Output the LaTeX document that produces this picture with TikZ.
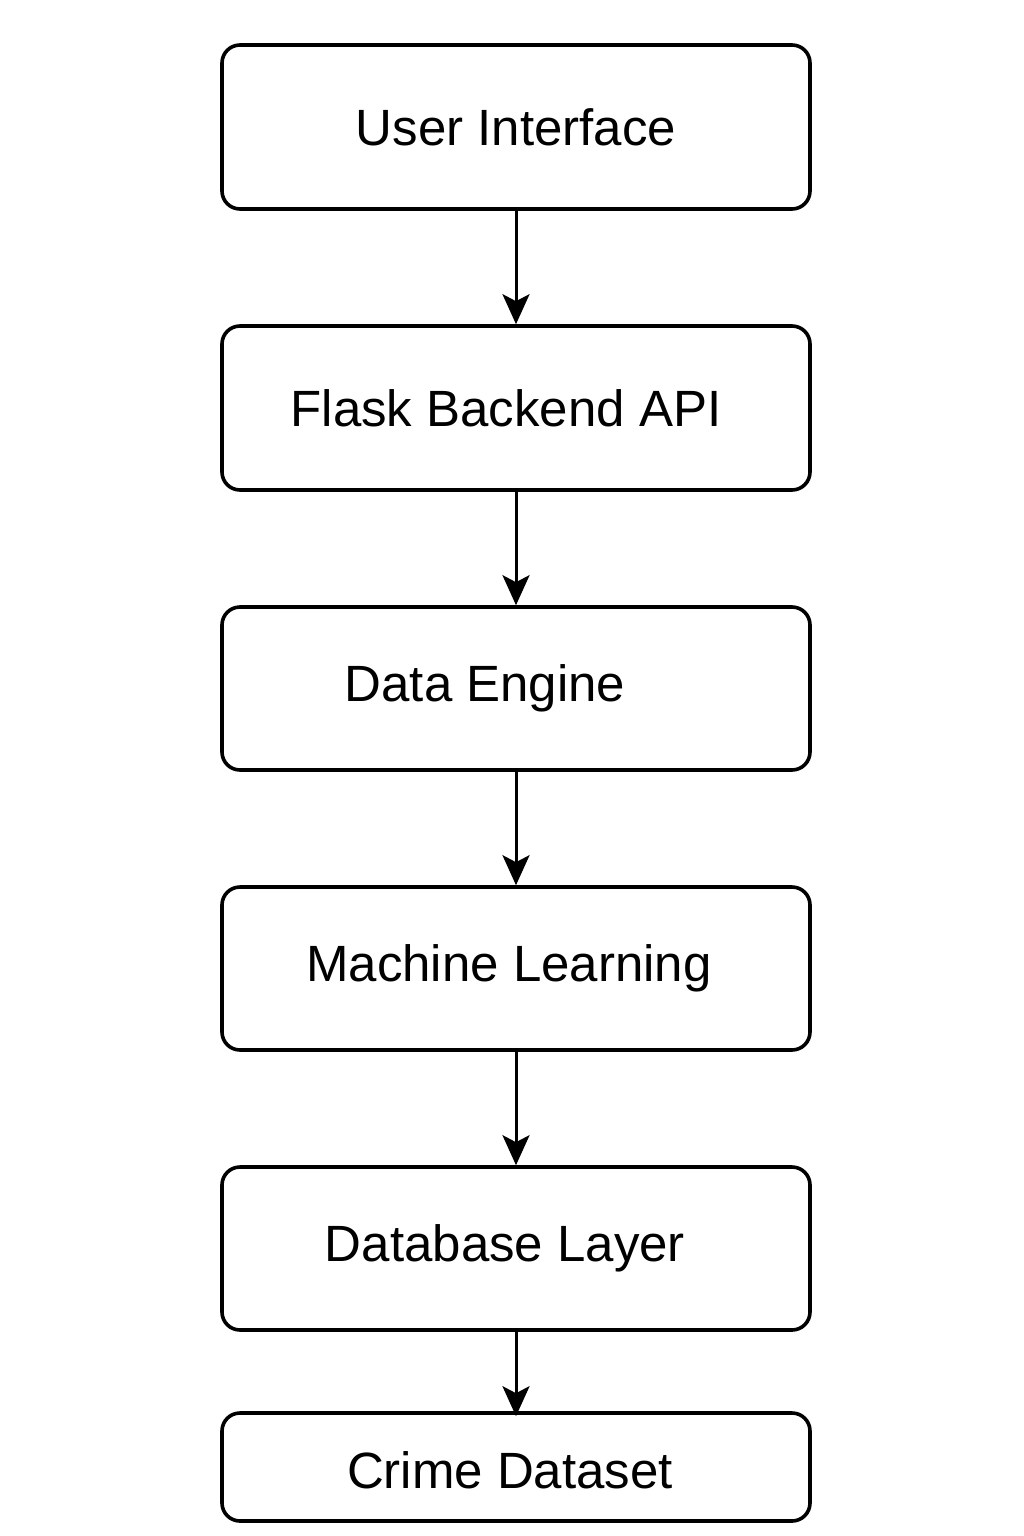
\documentclass[tikz,border=0pt]{standalone}
\usepackage{fontspec}
\setmainfont{Liberation Sans}
\usetikzlibrary{arrows.meta}
\begin{document}
\begin{tikzpicture}[x=1pt,y=-1pt,
  box/.style={draw=black,line width=3.6pt,rounded corners=18pt,minimum width=588pt,inner sep=0pt},
  lbl/.style={font=\fontsize{51}{60}\selectfont,inner sep=0pt,anchor=center},
  conn/.style={line width=3pt,-{Stealth[length=30pt,width=27pt,inset=7pt]}}]
\useasboundingbox[fill=white] (0,0) rectangle (1024,1536);
\node[box,minimum height=164pt] (b1) at (516,127) {};
\node[box,minimum height=164pt] (b2) at (516,408) {};
\node[box,minimum height=163pt] (b3) at (516,688.5) {};
\node[box,minimum height=163pt] (b4) at (516,968.5) {};
\node[box,minimum height=163pt] (b5) at (516,1248.5) {};
\node[box,minimum height=108pt] (b6) at (516,1467) {};
\node[lbl] (t1) at (516,127) {User Interface};
\node[lbl] (t2) at (506,408) {Flask Backend API};
\node[lbl] (t3) at (485,688) {Data Engine};
\node[lbl] (t4) at (509,968) {Machine Learning};
\node[lbl] (t5) at (505,1248) {Database Layer};
\node[lbl] (t6) at (510,1470) {Crime Dataset};
\draw[conn] (b1.south) -- (b2.north);
\draw[conn] (b2.south) -- (b3.north);
\draw[conn] (b3.south) -- (b4.north);
\draw[conn] (b4.south) -- (b5.north);
\draw[conn] (b5.south) -- ([yshift=-5pt]b6.north);
\end{tikzpicture}
\end{document}
